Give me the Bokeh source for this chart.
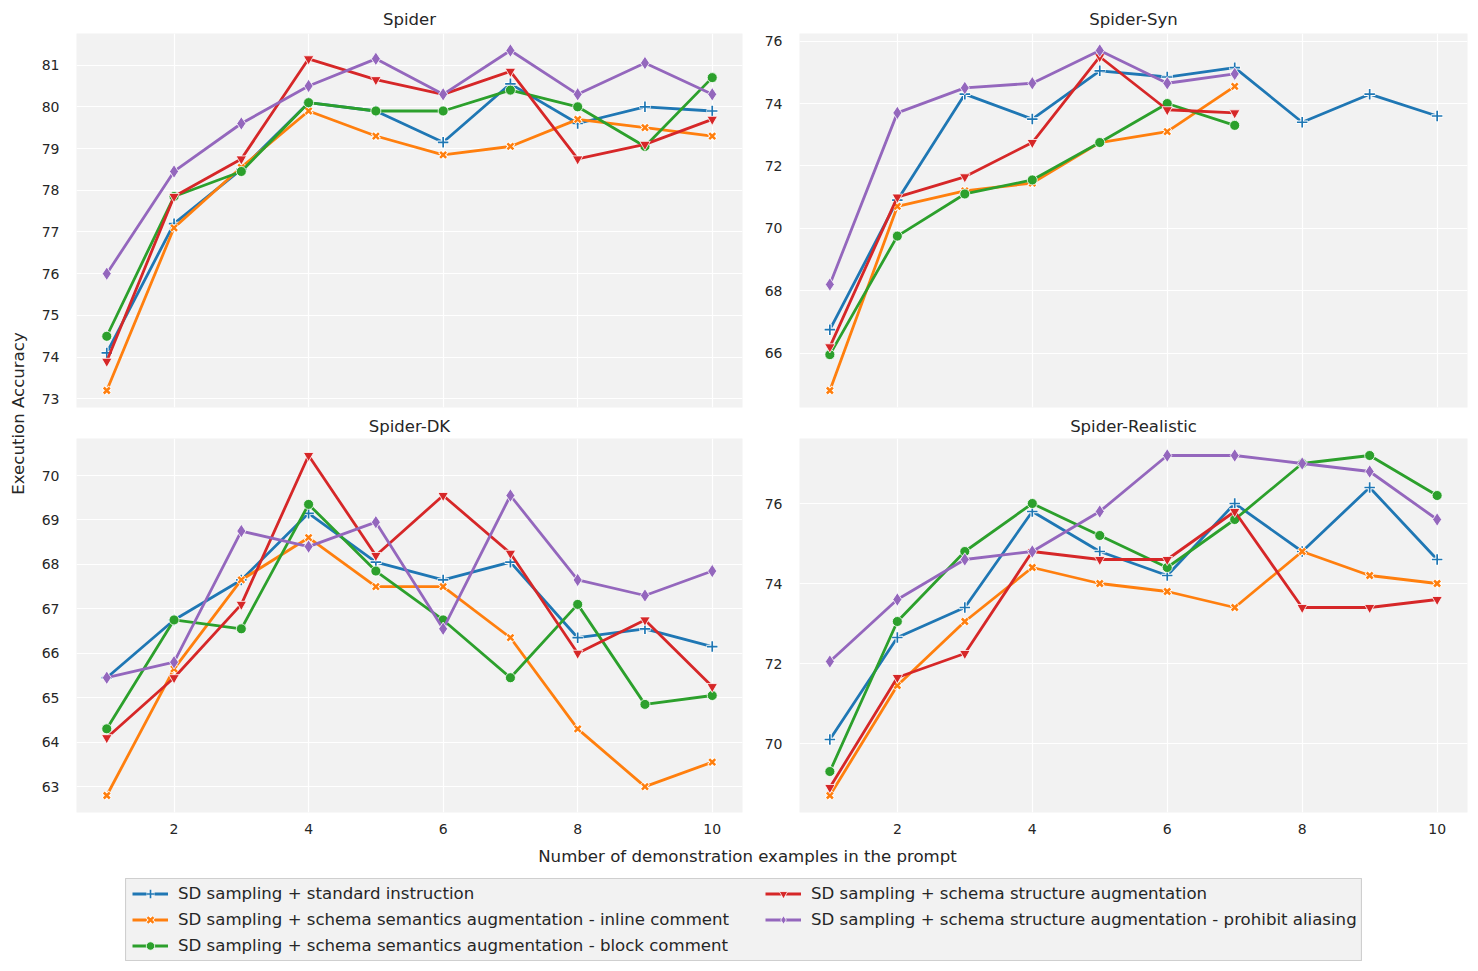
import math
from bokeh.plotting import figure
from bokeh.layouts import column, row
from bokeh.models import Range1d, FixedTicker, Legend, LegendItem, ColumnDataSource, Spacer
from bokeh.core.properties import value
from bokeh.embed import file_html
from bokeh.resources import INLINE

FONT = "DejaVu Sans"
TXT = "#262626"

labels = [
    "SD sampling + standard instruction",
    "SD sampling + schema semantics augmentation - inline comment",
    "SD sampling + schema semantics augmentation - block comment",
    "SD sampling + schema structure augmentation",
    "SD sampling + schema structure augmentation - prohibit aliasing",
]
colors = ["#1f77b4", "#ff7f0e", "#2ca02c", "#d62728", "#9467bd"]
markers = ["cross", "x", "circle", "inverted_triangle", "diamond"]

x10 = [1, 2, 3, 4, 5, 6, 7, 8, 9, 10]
x7 = [1, 2, 3, 4, 5, 6, 7]
xticks = [2, 4, 6, 8, 10]

# Spider
spider_std = [74.1, 77.2, 78.5, 80.1, 79.9, 79.15, 80.55, 79.6, 80.0, 79.9]
spider_inline = [73.2, 77.1, 78.55, 79.9, 79.3, 78.85, 79.05, 79.7, 79.5, 79.3]
spider_block = [74.5, 77.85, 78.45, 80.1, 79.9, 79.9, 80.4, 80.0, 79.05, 80.7]
spider_struct = [73.9, 77.85, 78.75, 81.15, 80.65, 80.3, 80.85, 78.75, 79.1, 79.7]
spider_alias = [76.0, 78.45, 79.6, 80.5, 81.15, 80.3, 81.35, 80.3, 81.05, 80.3]
spider_yticks = [73, 74, 75, 76, 77, 78, 79, 80, 81]

# Spider-Syn
syn_std = [66.75, 70.9, 74.3, 73.5, 75.05, 74.85, 75.15, 73.4, 74.3, 73.6]
syn_inline = [64.8, 70.7, 71.2, 71.45, 72.75, 73.1, 74.55]
syn_block = [65.95, 69.75, 71.1, 71.55, 72.75, 74.0, 73.3]
syn_struct = [66.2, 71.0, 71.65, 72.75, 75.5, 73.8, 73.7]
syn_alias = [68.2, 73.7, 74.5, 74.65, 75.7, 74.65, 74.95]
syn_yticks = [66, 68, 70, 72, 74, 76]

# Spider-DK
dk_std = [65.45, 66.75, 67.65, 69.15, 68.05, 67.65, 68.05, 66.35, 66.55, 66.15]
dk_inline = [62.8, 65.65, 67.65, 68.6, 67.5, 67.5, 66.35, 64.3, 63.0, 63.55]
dk_block = [64.3, 66.75, 66.55, 69.35, 67.85, 66.75, 65.45, 67.1, 64.85, 65.05]
dk_struct = [64.1, 65.45, 67.1, 70.45, 68.2, 69.55, 68.25, 66.0, 66.75, 65.25]
dk_alias = [65.45, 65.8, 68.75, 68.4, 68.95, 66.55, 69.55, 67.65, 67.3, 67.85]
dk_yticks = [63, 64, 65, 66, 67, 68, 69, 70]

# Spider-Realistic
real_std = [70.1, 72.65, 73.4, 75.8, 74.8, 74.2, 76.0, 74.8, 76.4, 74.6]
real_inline = [68.7, 71.45, 73.05, 74.4, 74.0, 73.8, 73.4, 74.8, 74.2, 74.0]
real_block = [69.3, 73.05, 74.8, 76.0, 75.2, 74.4, 75.6, 77.0, 77.2, 76.2]
real_struct = [68.9, 71.65, 72.25, 74.8, 74.6, 74.6, 75.8, 73.4, 73.4, 73.6]
real_alias = [72.05, 73.6, 74.6, 74.8, 75.8, 77.2, 77.2, 77.0, 76.8, 75.6]
real_yticks = [70, 72, 74, 76]


def add_series(p, xs, ys, i):
    c = colors[i]
    src = ColumnDataSource(dict(x=xs, y=ys))
    rs = [p.line("x", "y", source=src, line_color=c, line_width=2.8)]
    m = markers[i]
    if m == "cross":
        rs.append(p.scatter("x", "y", source=src, marker="cross", size=11.5,
                            line_color="white", line_width=3.6))
        rs.append(p.scatter("x", "y", source=src, marker="cross", size=10.5,
                            line_color=c, line_width=1.7))
    elif m == "x":
        rs.append(p.scatter("x", "y", source=src, marker="x", size=9.5,
                            line_color="white", line_width=4.4))
        rs.append(p.scatter("x", "y", source=src, marker="x", size=8.5,
                            line_color=c, line_width=2.5))
    elif m == "circle":
        rs.append(p.scatter("x", "y", source=src, marker="circle", size=10,
                            fill_color=c, line_color="white", line_width=0.8))
    elif m == "inverted_triangle":
        rs.append(p.scatter("x", "y", source=src, marker="inverted_triangle", size=10.5,
                            fill_color=c, line_color="white", line_width=0.8))
    else:
        rs.append(p.scatter("x", "y", source=src, marker="diamond", size=13.5,
                            fill_color=c, line_color="white", line_width=0.8))
    return rs


def panel(title, series, yticks, width, height, bl, br, bt, bb, show_x, standoff):
    allv = [v for _, ys in series for v in ys]
    lo, hi = min(allv), max(allv)
    pad = (hi - lo) * 0.05
    xpad = (max(x10) - min(x10)) * 0.05
    p = figure(width=width, height=height,
               x_range=Range1d(min(x10) - xpad, max(x10) + xpad),
               y_range=Range1d(lo - pad, hi + pad),
               output_backend="svg", toolbar_location=None, title=title,
               min_border_left=bl, min_border_right=br,
               min_border_top=bt, min_border_bottom=bb)
    p.title.align = "center"
    p.title.text_font = FONT
    p.title.text_font_size = "16.5px"
    p.title.text_font_style = "normal"
    p.title.text_color = TXT
    p.title.standoff = standoff
    p.background_fill_color = "#f2f2f2"
    p.border_fill_color = "white"
    p.outline_line_color = None
    p.xaxis.ticker = FixedTicker(ticks=xticks)
    p.yaxis.ticker = FixedTicker(ticks=yticks)
    for ax in (p.xaxis, p.yaxis):
        ax.axis_line_color = None
        ax.major_tick_line_color = None
        ax.minor_tick_line_color = None
        ax.major_label_text_font = FONT
        ax.major_label_text_font_size = "14px"
        ax.major_label_text_color = TXT
    p.yaxis.major_label_standoff = 11
    p.xaxis.major_label_standoff = 5
    if not show_x:
        p.xaxis.visible = False
    p.grid.grid_line_color = "white"
    p.grid.grid_line_width = 1.2
    for i, (xs, ys) in enumerate(series):
        add_series(p, xs, ys, i)
    return p


p_sp = panel("Spider",
             [(x10, spider_std), (x10, spider_inline), (x10, spider_block),
              (x10, spider_struct), (x10, spider_alias)],
             spider_yticks, 722, 412, 35, 18, 33, 5, False, 9)
p_syn = panel("Spider-Syn",
              [(x10, syn_std), (x7, syn_inline), (x7, syn_block),
               (x7, syn_struct), (x7, syn_alias)],
              syn_yticks, 710, 412, 39, 3, 33, 5, False, 9)
p_dk = panel("Spider-DK",
             [(x10, dk_std), (x10, dk_inline), (x10, dk_block),
              (x10, dk_struct), (x10, dk_alias)],
             dk_yticks, 722, 428, 35, 18, 25, 28, True, 5)
p_re = panel("Spider-Realistic",
             [(x10, real_std), (x10, real_inline), (x10, real_block),
              (x10, real_struct), (x10, real_alias)],
             real_yticks, 710, 428, 39, 3, 25, 28, True, 5)


def text_fig(w, h):
    f = figure(width=w, height=h, x_range=Range1d(0, w), y_range=Range1d(0, h),
               output_backend="svg", toolbar_location=None,
               x_axis_type=None, y_axis_type=None,
               min_border_left=0, min_border_right=0,
               min_border_top=0, min_border_bottom=0)
    f.outline_line_color = None
    f.background_fill_color = None
    f.border_fill_color = None
    f.grid.visible = False
    return f


ylab = text_fig(38, 840)
ylab.text(x=[18], y=[840 - 413], text=["Execution Accuracy"], angle=math.pi / 2,
          text_align="center", text_baseline="middle",
          text_font=value(FONT), text_font_size="16.6px", text_color=TXT)

xlab = text_fig(1470, 38)
xlab.text(x=[747], y=[38 - 16], text=["Number of demonstration examples in the prompt"],
          text_align="center", text_baseline="middle",
          text_font=value(FONT), text_font_size="16.6px", text_color=TXT)

# legend box: its frame is the box; the series are drawn off-frame, only their
# legend glyphs show
legf = figure(width=1237, height=83, x_range=Range1d(100, 200), y_range=Range1d(100, 200),
              output_backend="svg", toolbar_location=None,
              x_axis_type=None, y_axis_type=None,
              min_border_left=0, min_border_right=0,
              min_border_top=0, min_border_bottom=0)
legf.grid.visible = False
legf.background_fill_color = "#f2f2f2"
legf.border_fill_color = "white"
legf.outline_line_color = "#cfcfcf"
legf.outline_line_width = 1.2

items = []
for i in range(5):
    rs = add_series(legf, x10, real_alias, i)
    items.append(LegendItem(label=labels[i], renderers=rs))

common = dict(label_text_font=FONT, label_text_font_size="16.6px", label_text_color=TXT,
              glyph_width=36, glyph_height=21, label_standoff=10, spacing=5,
              padding=0, margin=0, background_fill_alpha=0.0, border_line_color=None)
leg1 = Legend(items=items[:3], location=(7, 5), orientation="vertical", **common)
leg2 = Legend(items=items[3:], location=(640, 31), orientation="vertical", **common)
legf.add_layout(leg1, "center")
legf.add_layout(leg2, "center")

grid = column(row(p_sp, p_syn), row(p_dk, p_re))
layout = column(row(ylab, grid), xlab, row(Spacer(width=125, height=83), legf))

open("out.html", "w").write(file_html(layout, INLINE))
